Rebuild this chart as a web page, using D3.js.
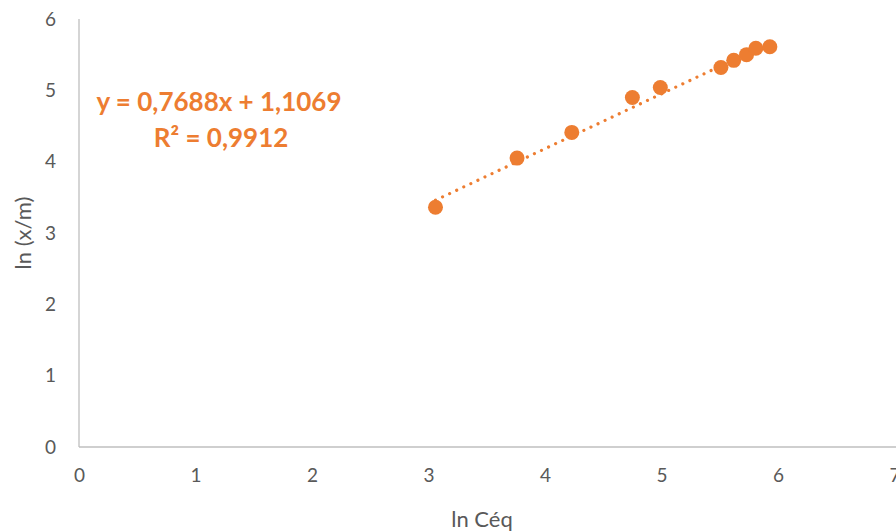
<!DOCTYPE html>
<html>
<head>
<meta charset="utf-8">
<script src="https://cdn.jsdelivr.net/npm/d3@7"></script>
<style>
  html, body { margin: 0; padding: 0; background: #fff; }
  svg { display: block; }
  text { font-family: Lato, "Open Sans", sans-serif; }
</style>
</head>
<body>
<div id="chart"></div>
<script>
// Freundlich linearisation: ln(x/m) against ln(Ceq)
const lnCeq = [3.06, 3.76, 4.23, 4.75, 4.99, 5.51, 5.62, 5.73, 5.81, 5.93];
const lnXm  = [3.36, 4.05, 4.41, 4.90, 5.04, 5.32, 5.42, 5.50, 5.59, 5.61];
const xTicks = [0, 1, 2, 3, 4, 5, 6, 7];
const yTicks = [0, 1, 2, 3, 4, 5, 6];
const slope = 0.7688, intercept = 1.1069, r2 = 0.9912;
const eqLines = ["y = 0,7688x + 1,1069", "R² = 0,9912"];
const xTitle = "ln Céq";
const yTitle = "ln (x/m)";

const W = 896, H = 531;
const margin = { left: 79, right: 1.5, top: 19, bottom: 84 };
const orange = "#ED7D31";
const axisGrey = "#BFBFBF";
const labelGrey = "#595959";

const svg = d3.select("#chart").append("svg")
  .attr("width", W).attr("height", H);

const x = d3.scaleLinear().domain([0, 7]).range([margin.left, W - margin.right]);
const y = d3.scaleLinear().domain([0, 6]).range([H - margin.bottom, margin.top]);

// axis lines
svg.append("line")
  .attr("x1", x(0)).attr("x2", W).attr("y1", y(0)).attr("y2", y(0))
  .attr("stroke", axisGrey).attr("stroke-width", 1.3);
svg.append("line")
  .attr("x1", x(0)).attr("x2", x(0)).attr("y1", y(0)).attr("y2", y(6))
  .attr("stroke", axisGrey).attr("stroke-width", 1.3);

// tick labels via d3 axes (no tick marks, no domain)
const xAxis = svg.append("g")
  .attr("transform", `translate(0,${y(0)})`)
  .call(d3.axisBottom(x).tickValues(xTicks).tickSize(0).tickPadding(22).tickFormat(d3.format("d")));
xAxis.select(".domain").remove();
xAxis.selectAll("text").attr("font-size", 19).attr("fill", labelGrey)
  .attr("font-family", "Lato, sans-serif");

const yAxis = svg.append("g")
  .attr("transform", `translate(${x(0)},0)`)
  .call(d3.axisLeft(y).tickValues(yTicks).tickSize(0).tickPadding(23).tickFormat(d3.format("d")));
yAxis.select(".domain").remove();
yAxis.selectAll("text").attr("font-size", 19).attr("fill", labelGrey)
  .attr("font-family", "Lato, sans-serif");

// axis titles
svg.append("text")
  .attr("x", 482).attr("y", 527)
  .attr("text-anchor", "middle")
  .attr("font-size", 22).attr("fill", labelGrey)
  .text(xTitle);
svg.append("text")
  .attr("transform", `translate(31,${(y(0) + y(6)) / 2}) rotate(-90)`)
  .attr("text-anchor", "middle")
  .attr("font-size", 22).attr("fill", labelGrey)
  .text(yTitle);

// dotted linear trendline over the data range
const x0 = d3.min(lnCeq), x1 = d3.max(lnCeq);
svg.append("line")
  .attr("x1", x(x0)).attr("y1", y(slope * x0 + intercept))
  .attr("x2", x(x1)).attr("y2", y(slope * x1 + intercept))
  .attr("stroke", orange).attr("stroke-width", 3.2)
  .attr("stroke-linecap", "round")
  .attr("stroke-dasharray", "0.01 7.8");

// data points
svg.append("g").selectAll("circle")
  .data(lnCeq.map((v, i) => [v, lnXm[i]]))
  .join("circle")
  .attr("cx", d => x(d[0])).attr("cy", d => y(d[1]))
  .attr("r", 7.5).attr("fill", orange);

// trendline equation
const eq = svg.append("text")
  .attr("font-size", 26).attr("font-weight", "bold").attr("fill", orange)
  .attr("text-anchor", "middle");
eq.append("tspan").attr("x", 219).attr("y", 111).text(eqLines[0]);
eq.append("tspan").attr("x", 221).attr("y", 147).text(eqLines[1]);
</script>
</body>
</html>
